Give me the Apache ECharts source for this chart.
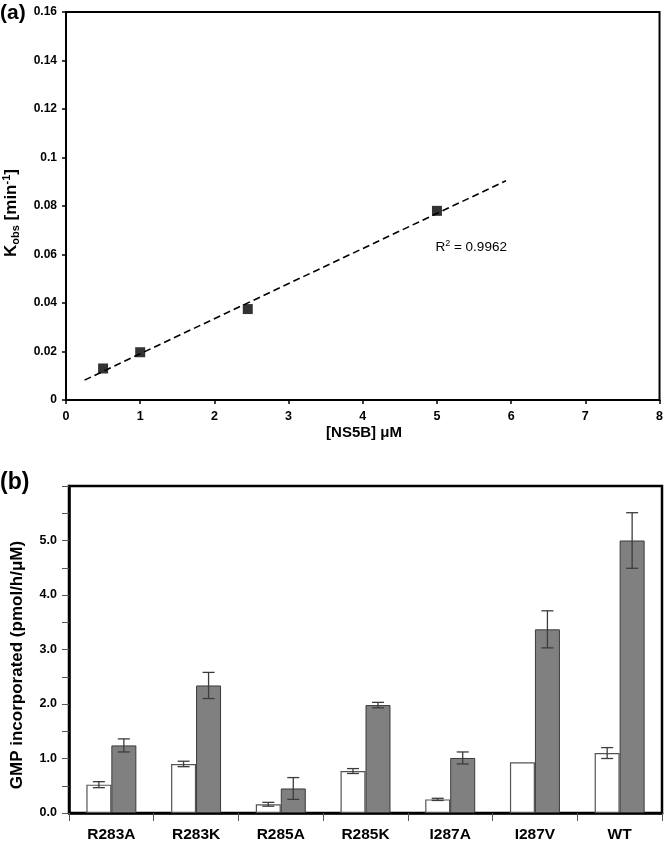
<!DOCTYPE html>
<html>
<head>
<meta charset="utf-8">
<script src="https://cdn.jsdelivr.net/npm/echarts@6/dist/echarts.min.js"></script>
<style>
html,body{margin:0;padding:0;background:#fff;}
#c{width:666px;height:848px;}
</style>
</head>
<body>
<div id="c"></div>
<script>
// ---- Panel (a) data ----
const ns5bConc = [0.5, 1, 2.45, 5];
const kobsVals = [0.013, 0.0197, 0.0375, 0.078];
const trendX = [0.25, 5.93];
const trendY = [0.0082, 0.0904];
const r2Value = '0.9962';
const r2Anchor = [4.98, 0.063];
const aXTicks = [0, 1, 2, 3, 4, 5, 6, 7, 8];

// ---- Panel (b) data ----
const mutants = ['R283A', 'R283K', 'R285A', 'R285K', 'I287A', 'I287V', 'WT'];
const whiteVals = [0.52, 0.90, 0.16, 0.77, 0.25, 0.93, 1.10];
const whiteErr = [0.055, 0.05, 0.035, 0.045, 0.02, 0, 0.10];
const grayVals = [1.24, 2.34, 0.45, 1.98, 1.01, 3.37, 5.0];
const grayErr = [0.12, 0.24, 0.20, 0.05, 0.11, 0.34, 0.51];

const FONT = '"Liberation Sans", Arial, sans-serif';
const GAP = 0.41;

const chart = echarts.init(document.getElementById('c'), null, {renderer: 'canvas'});

function errSeries(vals, errs, side) {
  return {
    type: 'custom',
    xAxisIndex: 1, yAxisIndex: 1,
    z: 10,
    data: vals.map((v, i) => [i, v, errs[i]]),
    encode: {x: 0, y: 1},
    renderItem: function (params, api) {
      const ci = api.value(0), v = api.value(1), e = api.value(2);
      if (!e) return null;
      const band = api.size([1, 0])[0];
      const bw = band * (1 - GAP) / 2;
      const off = side * bw / 2;
      const t = api.coord([ci, v + e]);
      const b = api.coord([ci, v - e]);
      const x = t[0] + off;
      const cap = 6;
      const st = {stroke: '#3c3c3c', lineWidth: 1.3};
      return {
        type: 'group',
        children: [
          {type: 'line', shape: {x1: x, y1: t[1], x2: x, y2: b[1]}, style: st},
          {type: 'line', shape: {x1: x - cap, y1: t[1], x2: x + cap, y2: t[1]}, style: st},
          {type: 'line', shape: {x1: x - cap, y1: b[1], x2: x + cap, y2: b[1]}, style: st}
        ]
      };
    }
  };
}

const option = {
  animation: false,
  backgroundColor: '#fff',
  textStyle: {fontFamily: FONT},
  grid: [
    {left: 66, right: 4, top: 12, height: 388, show: true, borderColor: '#000', borderWidth: 2, containLabel: false},
    {left: 69, right: 4, top: 486, height: 327, show: true, borderColor: '#000', borderWidth: 2.5, containLabel: false}
  ],
  xAxis: [
    {
      type: 'value', gridIndex: 0, min: 0, max: 8, interval: 1,
      axisLine: {show: true, lineStyle: {color: '#000', width: 2}},
      axisTick: {show: true, length: 4, lineStyle: {color: '#000', width: 1.5}},
      axisLabel: {fontFamily: FONT, fontWeight: 'bold', fontSize: 12.5, color: '#000', margin: 10,
        formatter: v => aXTicks.indexOf(v) >= 0 ? String(v) : ''},
      splitLine: {show: false}
    },
    {
      type: 'category', gridIndex: 1, data: mutants,
      axisLine: {show: true, lineStyle: {color: '#000', width: 2.5}},
      axisTick: {show: true, length: 8, alignWithLabel: false, lineStyle: {color: '#555', width: 1}},
      axisLabel: {fontFamily: FONT, fontWeight: 'bold', fontSize: 15.5, color: '#000', margin: 14, interval: 0},
      splitLine: {show: false}
    }
  ],
  yAxis: [
    {
      type: 'value', gridIndex: 0, min: 0, max: 0.16, interval: 0.02,
      axisLine: {show: true, lineStyle: {color: '#000', width: 2}},
      axisTick: {show: true, length: 4, lineStyle: {color: '#000', width: 1.5}},
      axisLabel: {fontFamily: FONT, fontWeight: 'bold', fontSize: 12, color: '#000', margin: 9,
        formatter: v => String(parseFloat(v.toFixed(2)))},
      splitLine: {show: false}
    },
    {
      type: 'value', gridIndex: 1, min: 0, max: 6, interval: 0.5,
      axisLine: {show: true, lineStyle: {color: '#000', width: 2.5}},
      axisTick: {show: true, length: 7, lineStyle: {color: '#555', width: 1}},
      axisLabel: {fontFamily: FONT, fontWeight: 'bold', fontSize: 12.5, color: '#000', margin: 12,
        formatter: v => (Math.abs(v - Math.round(v)) < 1e-9 && v < 5.5) ? v.toFixed(1) : ''},
      splitLine: {show: false}
    }
  ],
  series: [
    {
      type: 'line', xAxisIndex: 0, yAxisIndex: 0,
      data: trendX.map((x, i) => [x, trendY[i]]),
      symbol: 'none',
      lineStyle: {color: '#000', width: 1.6, type: [7, 4]},
      z: 2
    },
    {
      type: 'scatter', xAxisIndex: 0, yAxisIndex: 0,
      data: ns5bConc.map((x, i) => [x, kobsVals[i]]),
      symbol: 'rect', symbolSize: 10,
      itemStyle: {color: '#000'},
      z: 3
    },
    {
      type: 'bar', xAxisIndex: 1, yAxisIndex: 1,
      data: whiteVals,
      barGap: '0%', barCategoryGap: (GAP * 100) + '%',
      itemStyle: {color: '#fff', borderColor: '#555', borderWidth: 1.2}
    },
    {
      type: 'bar', xAxisIndex: 1, yAxisIndex: 1,
      data: grayVals,
      barGap: '0%', barCategoryGap: (GAP * 100) + '%',
      itemStyle: {color: '#808080', borderColor: '#3a3a3a', borderWidth: 1}
    },
    errSeries(whiteVals, whiteErr, -1),
    errSeries(grayVals, grayErr, 1)
  ]
};

chart.setOption(option);

const r2px = chart.convertToPixel({gridIndex: 0}, r2Anchor);

chart.setOption({
  graphic: [
    {type: 'text', left: 0, top: 3, style: {text: '(a)', font: 'bold 21px ' + FONT, fill: '#000'}},
    {type: 'text', left: 0, top: 471, style: {text: '(b)', font: 'bold 23px ' + FONT, fill: '#000'}},
    {
      type: 'text', x: 11, y: 213, rotation: Math.PI / 2,
      style: {
        text: '{m|K}{s|obs}{m| [min}{p|-1}{m|]}',
        align: 'center', verticalAlign: 'middle', fill: '#000',
        rich: {
          m: {font: 'bold 17px ' + FONT, fill: '#000', lineHeight: 20, verticalAlign: 'middle'},
          s: {font: 'bold 11px ' + FONT, fill: '#000', lineHeight: 20, verticalAlign: 'bottom'},
          p: {font: 'bold 11px ' + FONT, fill: '#000', lineHeight: 20, verticalAlign: 'top'}
        }
      }
    },
    {
      type: 'text', x: 364, y: 433,
      style: {text: '[NS5B] μM', font: 'bold 15px ' + FONT, fill: '#000', align: 'center', verticalAlign: 'middle'}
    },
    {
      type: 'text', x: r2px[0], y: r2px[1],
      style: {
        text: '{m|R}{p|2}{m| = ' + r2Value + '}',
        align: 'left', verticalAlign: 'middle', fill: '#000',
        rich: {
          m: {font: '13.5px ' + FONT, fill: '#000', lineHeight: 16, verticalAlign: 'middle'},
          p: {font: '9px ' + FONT, fill: '#000', lineHeight: 16, verticalAlign: 'top'}
        }
      }
    },
    {
      type: 'text', x: 17, y: 665, rotation: Math.PI / 2,
      style: {text: 'GMP incorporated (pmol/h/μM)', font: 'bold 17px ' + FONT, fill: '#000', align: 'center', verticalAlign: 'middle'}
    }
  ]
});
</script>
</body>
</html>
